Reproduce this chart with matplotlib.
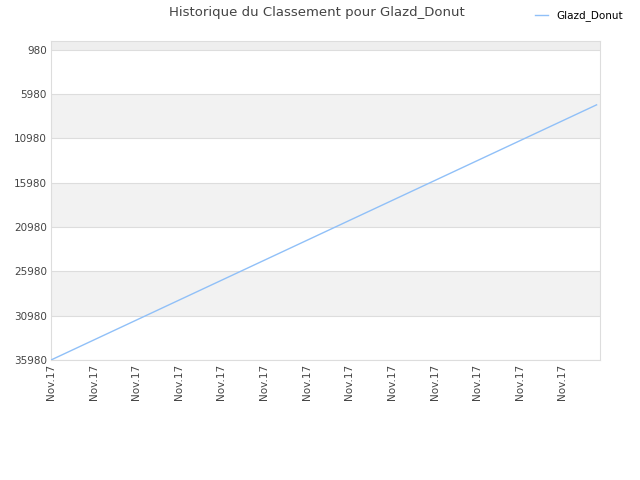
import matplotlib
matplotlib.use("Agg")
import matplotlib.pyplot as plt

# Data
x_pos = [0, 12.8]
ranks = [35980, 7200]
tick_positions = list(range(13))
tick_labels = ["Nov.17"] * 13
y_ticks = [980, 5980, 10980, 15980, 20980, 25980, 30980, 35980]
series_name = "Glazd_Donut"

fig = plt.figure(figsize=(6.4, 4.8), dpi=100)
ax = fig.add_axes([51/640, 120/480, 549/640, 319/480])

ymin, ymax = 0, 35980
ax.set_ylim(ymax, ymin)
ax.set_xlim(0, 12.88)

# bands
ax.axhspan(0, 980, color="#eeeeee", zorder=0, lw=0)
for i in range(len(y_ticks) - 1):
    if i % 2 == 1:
        ax.axhspan(y_ticks[i], y_ticks[i + 1], color="#f2f2f2", zorder=0, lw=0)
for y in y_ticks:
    ax.axhline(y, color="#dddddd", lw=0.8, zorder=1)

ax.plot(x_pos, ranks, color="#90c0f8", lw=1.0, label=series_name, zorder=3)

ax.set_yticks(y_ticks)
ax.set_yticklabels([str(v) for v in y_ticks])
ax.set_xticks(tick_positions)
ax.set_xticklabels(tick_labels, rotation=90)
ax.tick_params(axis="both", length=0, labelsize=7.5, colors="#444444", pad=3)

for s in ax.spines.values():
    s.set_color("#dddddd")
    s.set_linewidth(0.8)

fig.text(0.495, 0.988, "Historique du Classement pour Glazd_Donut", ha="center", va="top",
         fontsize=9.5, color="#444444")
fig.legend(loc="upper right", bbox_to_anchor=(0.988, 0.998), frameon=False, fontsize=7.5,
           handlelength=1.2, handletextpad=0.8)

fig.savefig("out.png", dpi=100)
